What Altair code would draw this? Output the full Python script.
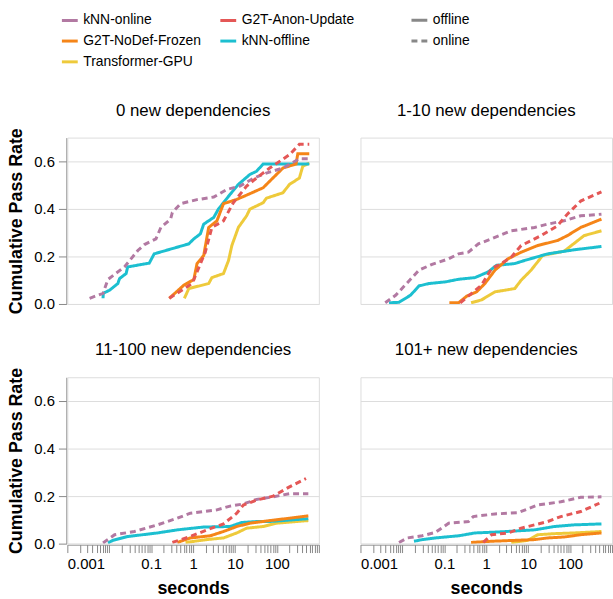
import altair as alt
import pandas as pd

# Facet panels and methods
panels = ["0 new dependencies", "1-10 new dependencies",
          "11-100 new dependencies", "101+ new dependencies"]
methods = ["kNN-online", "G2T-NoDef-Frozen", "Transformer-GPU",
           "G2T-Anon-Update", "kNN-offline"]
modes = {"kNN-online": "online", "G2T-Anon-Update": "online",
         "G2T-NoDef-Frozen": "offline", "kNN-offline": "offline",
         "Transformer-GPU": "offline"}
colors = ["#b279a2", "#f58518", "#eeca3b", "#e45756", "#1cbfd0"]

# ---- 0 new dependencies ----
p0_knn_online_s = [0.0034, 0.0071, 0.0093, 0.023, 0.048, 0.069, 0.13, 0.17, 0.29, 0.32,
                   0.50, 1.24, 3.1, 6.4, 13.1, 27, 56, 139, 343, 590]
p0_knn_online_r = [0.024, 0.045, 0.103, 0.156, 0.225, 0.25, 0.274, 0.322, 0.357, 0.385,
                   0.422, 0.439, 0.45, 0.482, 0.496, 0.528, 0.551, 0.572, 0.611, 0.611]
p0_knn_offline_s = [0.0071, 0.0072, 0.0102, 0.016, 0.0176, 0.0252, 0.0276, 0.09, 0.118, 0.79,
                    1.04, 1.49, 1.79, 3.1, 4.0, 5.3, 7.6, 12.0, 22.6, 32.5, 46.8, 590]
p0_knn_offline_r = [0.024, 0.045, 0.058, 0.086, 0.107, 0.128, 0.156, 0.172, 0.211, 0.253,
                    0.274, 0.295, 0.336, 0.364, 0.399, 0.426, 0.461, 0.503, 0.545, 0.558, 0.589, 0.589]
p0_g2t_frozen_s = [0.27, 0.60, 1.04, 1.24, 1.79, 2.35, 3.7, 5.3, 11.0, 22.6, 46.8, 139, 286, 314, 590]
p0_g2t_frozen_r = [0.024, 0.079, 0.103, 0.170, 0.204, 0.322, 0.35, 0.422, 0.44, 0.464, 0.489,
                   0.572, 0.589, 0.632, 0.632]
p0_g2t_anon_s = [0.27, 0.95, 1.24, 1.95, 2.8, 5.3, 9.1, 18.9, 32.5, 67, 199, 343, 590]
p0_g2t_anon_r = [0.024, 0.086, 0.135, 0.218, 0.322, 0.35, 0.426, 0.496, 0.53, 0.572, 0.628,
                 0.672, 0.672]
p0_transformer_s = [0.62, 0.79, 2.35, 2.8, 5.3, 7.0, 8.4, 12.0, 18.9, 22.6, 46.8, 56, 139, 199,
                    343, 412, 590]
p0_transformer_r = [0.024, 0.065, 0.086, 0.111, 0.128, 0.183, 0.246, 0.322, 0.371, 0.399, 0.426,
                    0.445, 0.468, 0.503, 0.53, 0.579, 0.593]

# ---- 1-10 new dependencies ----
p1_knn_online_s = [0.0039, 0.007, 0.0248, 0.051, 0.127, 0.218, 0.376, 0.65, 1.34, 3.96, 14.2,
                   29.2, 72, 179, 560]
p1_knn_online_r = [0.005, 0.0375, 0.142, 0.167, 0.19, 0.211, 0.218, 0.253, 0.274, 0.308, 0.322,
                   0.336, 0.35, 0.371, 0.378]
p1_knn_offline_s = [0.0048, 0.0083, 0.0158, 0.0248, 0.0427, 0.106, 0.218, 0.54, 1.11, 1.75, 4.8,
                    8.2, 29.2, 125, 560]
p1_knn_offline_r = [0.005, 0.007, 0.0375, 0.076, 0.086, 0.093, 0.104, 0.111, 0.135, 0.1625, 0.17,
                    0.183, 0.211, 0.228, 0.242]
p1_g2t_frozen_s = [0.132, 0.218, 0.343, 0.59, 0.93, 1.61, 3.3, 6.8, 16.9, 50, 86, 179, 560]
p1_g2t_frozen_r = [0.005, 0.005, 0.033, 0.051, 0.086, 0.142, 0.19, 0.218, 0.246, 0.267, 0.2875,
                   0.322, 0.357]
p1_g2t_anon_s = [0.24, 0.45, 0.77, 1.34, 2.3, 3.96, 6.8, 20.3, 50, 86, 179, 560]
p1_g2t_anon_r = [0.005, 0.045, 0.079, 0.149, 0.17, 0.197, 0.246, 0.2875, 0.329, 0.378, 0.433, 0.472]
p1_transformer_s = [0.435, 0.77, 1.61, 4.8, 6.8, 11.7, 22.2, 42, 72, 215, 560]
p1_transformer_r = [0.005, 0.017, 0.051, 0.065, 0.1, 0.142, 0.204, 0.214, 0.222, 0.2875, 0.308]

# ---- 11-100 new dependencies ----
p2_knn_online_s = [0.0071, 0.0134, 0.0397, 0.141, 0.42, 0.86, 3.7, 7.6, 15.8, 32.5, 81, 199, 560]
p2_knn_online_r = [0.003, 0.0375, 0.051, 0.079, 0.107, 0.128, 0.142, 0.158, 0.167, 0.186, 0.197,
                   0.21, 0.21]
p2_knn_offline_s = [0.0093, 0.0122, 0.0276, 0.141, 0.42, 1.79, 7.6, 14.4, 32.5, 67, 560]
p2_knn_offline_r = [0.003, 0.014, 0.03, 0.045, 0.058, 0.07, 0.072, 0.089, 0.093, 0.093, 0.105]
p2_g2t_frozen_s = [0.42, 0.86, 2.56, 5.3, 11.0, 22.6, 67, 199, 560]
p2_g2t_frozen_r = [0.005, 0.024, 0.033, 0.051, 0.072, 0.086, 0.097, 0.107, 0.117]
p2_g2t_anon_s = [0.32, 0.86, 2.14, 5.3, 11.0, 15.8, 32.5, 81, 199, 493]
p2_g2t_anon_r = [0.005, 0.03, 0.058, 0.083, 0.128, 0.1625, 0.183, 0.2, 0.239, 0.274]
p2_transformer_s = [0.66, 2.14, 5.3, 11.0, 18.9, 46.8, 97, 286, 560]
p2_transformer_r = [0.005, 0.017, 0.024, 0.045, 0.065, 0.072, 0.086, 0.093, 0.097]

# ---- 101+ new dependencies ----
p3_knn_online_s = [0.0083, 0.0131, 0.0296, 0.061, 0.127, 0.376, 0.49, 1.61, 5.7, 16.9, 60, 179, 560]
p3_knn_online_r = [0.005, 0.024, 0.033, 0.047, 0.086, 0.093, 0.114, 0.125, 0.13, 0.1625, 0.176,
                   0.195, 0.197]
p3_knn_offline_s = [0.0189, 0.0296, 0.061, 0.218, 0.54, 1.92, 14.2, 42, 125, 560]
p3_knn_offline_r = [0.01, 0.017, 0.024, 0.033, 0.045, 0.049, 0.058, 0.072, 0.079, 0.083]
p3_g2t_frozen_s = [0.435, 1.34, 14.2, 29.2, 72, 179, 560]
p3_g2t_frozen_r = [0.005, 0.01, 0.017, 0.024, 0.028, 0.0375, 0.045]
p3_g2t_anon_s = [0.85, 1.34, 3.3, 6.8, 14.2, 29.2, 60, 179, 500]
p3_g2t_anon_r = [0.005, 0.0375, 0.045, 0.065, 0.079, 0.093, 0.114, 0.135, 0.17]
p3_transformer_s = [3.96, 9.8, 16.9, 42, 125, 560]
p3_transformer_r = [0.005, 0.014, 0.0375, 0.042, 0.045, 0.051]

series = [
    (panels[0], "Transformer-GPU", p0_transformer_s, p0_transformer_r),
    (panels[0], "kNN-offline", p0_knn_offline_s, p0_knn_offline_r),
    (panels[0], "G2T-NoDef-Frozen", p0_g2t_frozen_s, p0_g2t_frozen_r),
    (panels[0], "kNN-online", p0_knn_online_s, p0_knn_online_r),
    (panels[0], "G2T-Anon-Update", p0_g2t_anon_s, p0_g2t_anon_r),
    (panels[1], "Transformer-GPU", p1_transformer_s, p1_transformer_r),
    (panels[1], "kNN-offline", p1_knn_offline_s, p1_knn_offline_r),
    (panels[1], "G2T-NoDef-Frozen", p1_g2t_frozen_s, p1_g2t_frozen_r),
    (panels[1], "kNN-online", p1_knn_online_s, p1_knn_online_r),
    (panels[1], "G2T-Anon-Update", p1_g2t_anon_s, p1_g2t_anon_r),
    (panels[2], "Transformer-GPU", p2_transformer_s, p2_transformer_r),
    (panels[2], "kNN-offline", p2_knn_offline_s, p2_knn_offline_r),
    (panels[2], "G2T-NoDef-Frozen", p2_g2t_frozen_s, p2_g2t_frozen_r),
    (panels[2], "kNN-online", p2_knn_online_s, p2_knn_online_r),
    (panels[2], "G2T-Anon-Update", p2_g2t_anon_s, p2_g2t_anon_r),
    (panels[3], "Transformer-GPU", p3_transformer_s, p3_transformer_r),
    (panels[3], "kNN-offline", p3_knn_offline_s, p3_knn_offline_r),
    (panels[3], "G2T-NoDef-Frozen", p3_g2t_frozen_s, p3_g2t_frozen_r),
    (panels[3], "kNN-online", p3_knn_online_s, p3_knn_online_r),
    (panels[3], "G2T-Anon-Update", p3_g2t_anon_s, p3_g2t_anon_r),
]

rows = []
order = 0
for panel, method, secs, rates in series:
    for s, r in zip(secs, rates):
        rows.append({"deps": panel, "method": method, "mode": modes[method],
                     "seconds": s, "rate": r, "order": order})
        order += 1
df = pd.DataFrame(rows)

FONT = "Liberation Sans"

lines = alt.Chart(df).mark_line(strokeWidth=3, clip=True).encode(
    x=alt.X("seconds:Q", title="seconds",
            scale=alt.Scale(type="log", domain=[0.001, 1000]),
            axis=alt.Axis(grid=False, tickCount=10)),
    y=alt.Y("rate:Q", title="Cumulative Pass Rate",
            scale=alt.Scale(domain=[0, 0.7]),
            axis=alt.Axis(values=[0, 0.2, 0.4, 0.6], format=".1f")),
    color=alt.Color("method:N", scale=alt.Scale(domain=methods, range=colors),
                    legend=alt.Legend(title=None, orient="none", legendX=-7, legendY=-128,
                                      columns=2, symbolType="stroke", symbolSize=256,
                                      symbolStrokeWidth=3, labelFontSize=14,
                                      rowPadding=4, columnPadding=12)),
    strokeDash=alt.StrokeDash("mode:N",
                              scale=alt.Scale(domain=["offline", "online"],
                                              range=[[1, 0], [6, 4]]),
                              legend=alt.Legend(title=None, orient="none", legendX=346,
                                                legendY=-128, symbolType="stroke",
                                                symbolSize=256, symbolStrokeWidth=3,
                                                symbolStrokeColor="#888",
                                                labelFontSize=14, rowPadding=4)),
    order="order:Q",
).properties(width=254, height=168)

chart = lines.facet(
    facet=alt.Facet("deps:N", sort=panels,
                    header=alt.Header(title=None, labelFontSize=17, labelFont=FONT,
                                      labelColor="black", labelPadding=18)),
    columns=2,
    spacing={"row": 36, "column": 40},
).configure(
    font=FONT,
).configure_axis(
    labelFont=FONT, titleFont=FONT, labelFontSize=15, titleFontSize=18,
    titleFontWeight="bold", labelColor="black", titleColor="black",
    tickSize=8, labelPadding=4, titlePadding=8,
).configure_legend(
    labelFont=FONT, labelColor="black",
).properties(
    padding={"left": 8, "top": 8, "right": 0, "bottom": 5}
)

chart.save("out.html", embed_options={"renderer": "svg", "actions": False})
